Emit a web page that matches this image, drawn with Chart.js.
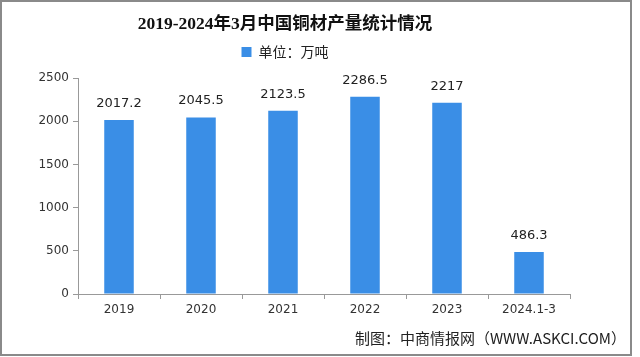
<!DOCTYPE html>
<html><head><meta charset="utf-8">
<script src="https://cdn.jsdelivr.net/npm/chart.js@4/dist/chart.umd.min.js"></script>
<style>html,body{margin:0;padding:0;background:#fff;}#wrap{width:640px;height:357px;position:relative;}</style>
</head><body><div id="wrap"><canvas id="c" width="640" height="357"></canvas></div>
<script>
const categories = ['2019','2020','2021','2022','2023','2024.1-3'];
const values = [2017.2, 2045.5, 2123.5, 2286.5, 2217, 486.3];
const yTicks = [0, 500, 1000, 1500, 2000, 2500];
const seriesName = '单位：万吨';
const titleText = '2019-2024年3月中国铜材产量统计情况';
const footerText = '制图：中商情报网（WWW.ASKCI.COM）';

const barColor = '#3a8ee6';

const extras = {
  id: 'extras',
  afterDatasetsDraw(chart) {
    const ctx = chart.ctx;
    const meta = chart.getDatasetMeta(0);
    ctx.save();
    ctx.fillStyle = '#222';
    ctx.font = '13px "DejaVu Sans", sans-serif';
    ctx.textAlign = 'center';
    ctx.textBaseline = 'bottom';
    meta.data.forEach((bar, i) => {
      ctx.fillText(String(values[i]), bar.x, bar.y - 10);
    });
    ctx.restore();
  },
  afterDraw(chart) {
    const ctx = chart.ctx;
    ctx.save();
    ctx.fillStyle = '#222';
    ctx.font = '15px "Noto Sans CJK SC", sans-serif';
    ctx.textAlign = 'right';
    ctx.textBaseline = 'middle';
    ctx.fillText(footerText, 626, 338);
    ctx.strokeStyle = '#8a8a8a';
    ctx.lineWidth = 2;
    ctx.strokeRect(1, 1, 630, 354);
    ctx.restore();
  }
};

new Chart(document.getElementById('c'), {
  type: 'bar',
  data: {
    labels: categories,
    datasets: [{
      label: seriesName,
      data: values,
      backgroundColor: barColor,
      borderWidth: 0,
      barPercentage: 0.72,
      categoryPercentage: 0.5
    }]
  },
  options: {
    responsive: false,
    animation: false,
    layout: { padding: { left: 0, right: 70, top: 0, bottom: 0 } },
    plugins: {
      title: {
        display: true,
        text: titleText,
        color: '#111',
        font: { size: 17.5, weight: 'bold', family: '"Liberation Serif", "Noto Sans CJK SC", serif' },
        padding: { top: 14, bottom: 0 },
        align: 'center',
        fullSize: true
      },
      subtitle: {
        display: true,
        text: ' ',
        weight: 500,
        position: 'top',
        font: { size: 1 },
        padding: { top: 0, bottom: 8 }
      },
      legend: {
        display: true,
        labels: {
          color: '#222',
          font: { size: 14, family: '"Noto Sans CJK SC", sans-serif' },
          boxWidth: 10, boxHeight: 10,
          padding: 10
        }
      },
      tooltip: { enabled: false }
    },
    scales: {
      x: {
        grid: { display: true, drawOnChartArea: false, drawTicks: true, tickLength: 5, color: '#999', offset: true },
        border: { display: true, color: '#999' },
        ticks: { color: '#333', font: { size: 12, family: '"DejaVu Sans", sans-serif' }, padding: 4 },
        afterFit(s) { s.height = 63; }
      },
      y: {
        min: 0, max: 2500,
        afterBuildTicks(s) { s.ticks = yTicks.map(v => ({ value: v })); },
        grid: { display: true, drawOnChartArea: false, drawTicks: true, tickLength: 5, color: '#999' },
        border: { display: true, color: '#999' },
        ticks: { color: '#333', font: { size: 12, family: '"DejaVu Sans", sans-serif' }, padding: 4,
                 callback: (v) => String(v) },
        afterFit(s) { s.width = 78; }
      }
    }
  },
  plugins: [extras]
});
</script></body></html>
